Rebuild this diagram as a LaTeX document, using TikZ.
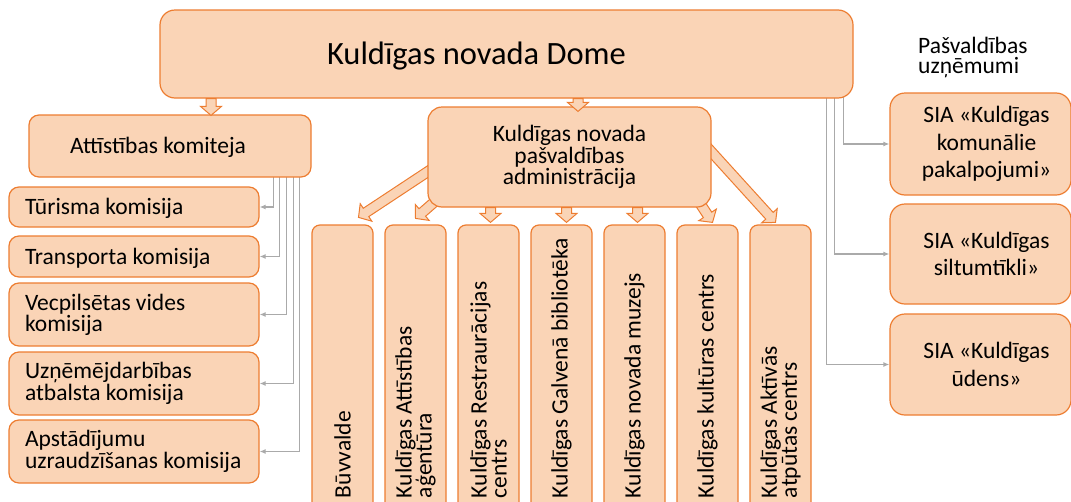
\documentclass[tikz,border=0pt]{standalone}
\usepackage{fontspec}
\setmainfont{Carlito}
\usetikzlibrary{arrows.meta,calc,backgrounds}

\definecolor{peach}{RGB}{250,212,182}
\definecolor{orangeline}{RGB}{237,125,49}
\definecolor{linkgray}{RGB}{170,170,170}

\newcommand{\blockarrow}[2]{%
  \coordinate (ba-h) at ($(#2)!9pt!(#1)$);
  \draw[blkarrow] ($(#1)!5pt!90:(#2)$) -- ($(ba-h)!5pt!90:(#2)$)
    -- ($(ba-h)!10.5pt!90:(#2)$) -- (#2) -- ($(ba-h)!10.5pt!-90:(#2)$)
    -- ($(ba-h)!5pt!-90:(#2)$) -- ($(#1)!5pt!-90:(#2)$) -- cycle;}

\begin{document}
\begin{tikzpicture}[x=1pt, y=-1pt, >={Latex[length=6pt,width=5pt]},
  every node/.style={font=\fontsize{23.5}{20}\selectfont},
  box/.style={draw=orangeline, fill=peach, line width=1.2pt, rounded corners=10pt, inner sep=0pt,
    execute at begin node={\spaceskip=0pt\xspaceskip=0pt\hyphenpenalty=10000\exhyphenpenalty=10000}},
  lbox/.style={box, minimum width=250pt, text width=218pt, inner xsep=16pt, align=left},
  vbox/.style={box, rotate=90, minimum width=285pt, minimum height=61pt, text width=261pt, inner xsep=12pt, align=left, rounded corners=8pt},
  sbox/.style={box, minimum width=181pt, rounded corners=15pt},
  sialabel/.style={xshift=6pt, align=center, font=\fontsize{23.5}{27.5}\selectfont},
  oneline/.style={text height=15pt, text depth=0pt},
  link/.style={draw=linkgray, line width=1.5pt, ->},
  blkarrow/.style={draw=orangeline, fill=peach, line width=1pt, line join=miter}]

\useasboundingbox (0,0) rectangle (1071,501);
\clip (0,0) rectangle (1071,501);

\node[box, minimum width=693pt, minimum height=88pt, rounded corners=15pt,
  label={[font=\fontsize{32.5}{38}\selectfont, xshift=-30pt, text height=20pt, text depth=0pt]center:Kuldīgas novada Dome}] (dome) at (506.5,54) {};
\node[box, minimum width=282pt, minimum height=62pt,
  label={[oneline, xshift=-12pt]center:Attīstības komiteja}] (kom) at (170,146) {};
\node[box, minimum width=283pt, minimum height=100pt, rounded corners=14pt, align=center] (admin) at (569.5,157) {Kuldīgas novada\\pašvaldības\\administrācija};

\node[lbox, oneline, minimum height=40pt] (tur) at (134,207) {Tūrisma komisija};
\node[lbox, oneline, minimum height=41pt] (tra) at (134,256.5) {Transporta komisija};
\node[lbox, minimum height=63pt] (vec) at (134,314.5) {Vecpilsētas vides\\komisija};
\node[lbox, minimum height=63pt] (uzn) at (134,383.5) {Uzņēmējdarbības\\atbalsta komisija};
\node[lbox, minimum height=63pt] (aps) at (134,451.5) {Apstādījumu\\uzraudzīšanas komisija};

\foreach \n/\txt [count=\i from 0] in {b1/Būvvalde, b2/{Kuldīgas Attīstības\\aģentūra}, b3/{Kuldīgas Restraurācijas\\centrs}, b4/Kuldīgas Galvenā bibliotēka, b5/Kuldīgas novada muzejs, b6/Kuldīgas kultūras centrs, b7/{Kuldīgas Aktīvās\\atpūtas centrs}}
  \node[vbox] (\n) at (342.5+73*\i,367.5) {\txt};

\node[anchor=north west, inner sep=0pt, align=left] (pu) at (918,37) {Pašvaldības\\uzņēmumi};
\node[sbox, minimum height=102pt, label={[sialabel]center:SIA «Kuldīgas\\komunālie\\pakalpojumi»}] (sia1) at (980.5,144) {};
\node[sbox, minimum height=100pt, label={[sialabel]center:SIA «Kuldīgas\\siltumtīkli»}] (sia2) at (980.5,254) {};
\node[sbox, minimum height=101pt, label={[sialabel]center:SIA «Kuldīgas\\ūdens»}] (sia3) at (980.5,364.5) {};

\begin{scope}[on background layer]
  \foreach \s/\t in {38pt/tur, 32pt/tra, 25pt/vec, 18pt/uzn, 12pt/aps}
    \draw[link] ([xshift=-\s, yshift=5pt]kom.south east) |- (\t.east);
  \foreach \s/\t in {10pt/sia1, 19pt/sia2, 27pt/sia3}
    \draw[link] ([xshift=-\s, yshift=5pt]dome.south east) |- (\t.west);
  \coordinate (c1s) at ([xshift=18pt,yshift=-3pt]admin.west);
  \coordinate (c1e) at ([xshift=16pt,yshift=7pt]b1.east);
  \coordinate (c2s) at ([xshift=20pt,yshift=17pt]admin.south west);
  \coordinate (c2e) at ([yshift=6pt]b2.east);
  \coordinate (c6s) at ([xshift=-20pt,yshift=17pt]admin.south east);
  \coordinate (c6e) at ([xshift=5pt,yshift=2pt]b6.east);
  \coordinate (c7s) at ([xshift=-20pt,yshift=27pt]admin.east);
  \coordinate (c7e) at ([xshift=-5pt,yshift=2pt]b7.east);
  \blockarrow{c1s}{c1e}
  \blockarrow{c2s}{c2e}
  \blockarrow{c6s}{c6e}
  \blockarrow{c7s}{c7e}
\end{scope}

\coordinate (a0e) at ([xshift=41pt,yshift=-1pt]kom.north);
\coordinate (a1e) at ([xshift=8.5pt,yshift=-5pt]admin.north);
\coordinate (c3e) at ([xshift=2pt,yshift=2pt]b3.east);
\coordinate (c4e) at ([xshift=5pt,yshift=2pt]b4.east);
\coordinate (c5e) at ([xshift=3pt,yshift=2pt]b5.east);
\blockarrow{dome.south -| a0e}{a0e}
\blockarrow{dome.south -| a1e}{a1e}
\blockarrow{admin.south -| c3e}{c3e}
\blockarrow{admin.south -| c4e}{c4e}
\blockarrow{admin.south -| c5e}{c5e}
\end{tikzpicture}
\end{document}
